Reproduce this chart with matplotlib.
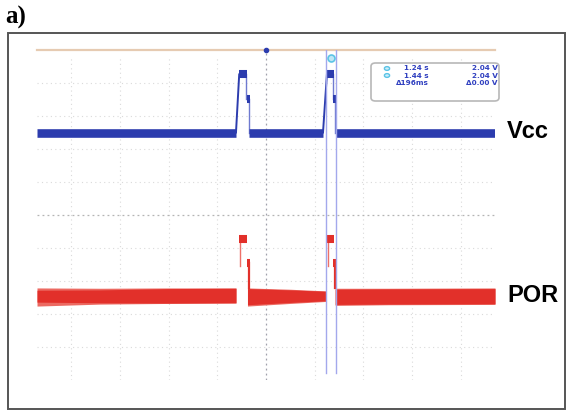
import matplotlib
matplotlib.use("Agg")
import matplotlib.pyplot as plt
from matplotlib.patches import Rectangle, FancyBboxPatch, Circle

W, H = 573, 413

# ---------------- data (time in s, 1 s/div; amplitude in divisions) ----------------
t_limits = (-4.70, 4.70)
div_limits = (-5.0, 5.0)
grid_t = [-4, -3, -2, -1, 1, 2, 3, 4]
grid_div = [-4, -3, -2, -1, 1, 2, 3, 4]

vcc_base_segments = [(-4.70, -0.616), (-0.34, 1.17), (1.44, 4.70)]
vcc_base_level = 2.50
vcc_pulse_segments = [(-0.56, -0.40), (1.24, 1.39)]
vcc_pulse_level = 4.26
vcc_step_segments = [(-0.39, -0.33), (1.38, 1.44)]
vcc_step_level = 3.52
vcc_ramps = [(-0.616, -0.55), (1.17, 1.25)]

por_band_t = [[-4.70, -3.4, -2.0, -0.616], [-0.38, 0.5, 1.225], [1.42, 2.5, 4.70]]
por_band_top = [[-2.21, -2.22, -2.21, -2.21], [-2.21, -2.25, -2.30], [-2.22, -2.22, -2.21]]
por_band_bot = [[-2.76, -2.70, -2.68, -2.67], [-2.76, -2.68, -2.62], [-2.74, -2.72, -2.71]]
por_inner_top = [[-2.28, -2.27, -2.23, -2.22], [-2.23, -2.27, -2.31], [-2.25, -2.24, -2.23]]
por_inner_bot = [[-2.64, -2.66, -2.67, -2.66], [-2.72, -2.65, -2.60], [-2.71, -2.70, -2.69]]
por_pulse_segments = [(-0.56, -0.40), (1.24, 1.39)]
por_pulse_level = -0.727
por_step_segments = [(-0.39, -0.33), (1.38, 1.44)]
por_step_level = -1.45

cursor_t = [1.24, 1.44]
meas_left = ["1.24 s", "1.44 s", "\u0394196ms"]
meas_right = ["2.04 V", "2.04 V", "\u03940.00 V"]
trace_labels = ["Vcc", "POR"]
panel_label = "a)"

BLUE = "#2c3cae"
RED = "#e2302a"
RED_LIGHT = "#ec6a62"
CURSOR = "#a3a8ec"
GRID = "#dadada"

# ---------------- figure ----------------
fig = plt.figure(figsize=(W / 100, H / 100), dpi=100)
fig.patch.set_facecolor("white")


def fx(x):
    return x / W


def fy(y):
    return 1 - y / H


# axes = scope screen (pixels 37..495 x 50..380)
ax = fig.add_axes([fx(37), fy(380), fx(495) - fx(37), fy(50) - fy(380)])
ax.set_xlim(*t_limits)
ax.set_ylim(*div_limits)
ax.axis("off")

# grid
for t in grid_t:
    ax.axvline(t, ymin=0.0, ymax=0.98, color=GRID, lw=0.8, ls=(0, (1, 3)), zorder=1)
for d in grid_div:
    ax.axhline(d, color=GRID, lw=0.8, ls=(0, (1, 3)), zorder=1)
ax.axvline(0, ymin=0.0, ymax=1.0, color="#a0a0ac", lw=0.9, ls=(0, (1.5, 2.5)), zorder=1)
ax.axhline(0, color="#b4b4b4", lw=0.9, ls=(0, (1.5, 2.5)), zorder=1)

# top reference line
ax.axhline(div_limits[1], color="#e6cbb2", lw=1.6, zorder=2, clip_on=False)
ax.plot([0], [div_limits[1]], marker="o", ms=3, color=BLUE, zorder=6, clip_on=False)

# ---- Vcc trace ----
for a, b in vcc_base_segments:
    ax.plot([a, b], [vcc_base_level] * 2, color=BLUE, lw=6.2, solid_capstyle="butt", zorder=4)
for a, b in vcc_pulse_segments:
    ax.plot([a, b], [vcc_pulse_level] * 2, color=BLUE, lw=5.8, solid_capstyle="butt", zorder=4)
for a, b in vcc_step_segments:
    ax.plot([a, b], [vcc_step_level] * 2, color=BLUE, lw=5.8, solid_capstyle="butt", zorder=4)
for a, b in vcc_ramps:
    ax.plot([a, b], [vcc_base_level, vcc_pulse_level], color=BLUE, lw=1.4, zorder=4)
for (pa, pb), (sa, sb) in zip(vcc_pulse_segments, vcc_step_segments):
    ax.plot([pb - 0.02, pb - 0.02], [vcc_pulse_level, vcc_step_level], color="#6f7ad0", lw=1.0, zorder=3)
    ax.plot([sb - 0.02, sb - 0.02], [vcc_step_level, vcc_base_level], color="#6f7ad0", lw=1.0, zorder=3)

# ---- POR trace ----
for ts, top, bot, itop, ibot in zip(por_band_t, por_band_top, por_band_bot, por_inner_top, por_inner_bot):
    ax.fill_between(ts, bot, top, color=RED_LIGHT, lw=0, zorder=3)
    ax.fill_between(ts, ibot, itop, color=RED, lw=0, zorder=4)
for a, b in por_pulse_segments:
    ax.plot([a, b], [por_pulse_level] * 2, color=RED, lw=5.8, solid_capstyle="butt", zorder=4)
for a, b in por_step_segments:
    ax.plot([a, b], [por_step_level] * 2, color=RED, lw=5.8, solid_capstyle="butt", zorder=4)
for (pa, pb), (sa, sb) in zip(por_pulse_segments, por_step_segments):
    ax.plot([pa + 0.03, pa + 0.03], [por_pulse_level, por_step_level - 0.1], color="#ee7068", lw=1.0, zorder=3)
    ax.plot([sb - 0.02, sb - 0.02], [por_step_level, por_band_top[0][-1]], color=RED, lw=1.6, zorder=3)

# ---- cursors ----
for c in cursor_t:
    ax.axvline(c, ymin=0.02, ymax=1.0, color=CURSOR, lw=1.0, zorder=5)
ax.plot([sum(cursor_t) / 2], [4.76], marker="o", ms=5, mfc="#bfe6f4", mec="#5cc4e6", mew=1.2,
        zorder=6, clip_on=False)

# ---------------- measurement box ----------------
box = FancyBboxPatch((fx(371), fy(101)), fx(499) - fx(371), fy(63) - fy(101),
                     boxstyle="round,pad=0,rounding_size=0.008", transform=fig.transFigure,
                     facecolor="white", edgecolor="#b8b8b8", lw=1.2, zorder=7)
fig.patches.append(box)
rows_y = [68.5, 75.5, 83]
for i, y in enumerate(rows_y[:2]):
    fig.patches.append(Circle((fx(387), fy(y)), 2.6 / W, transform=fig.transFigure,
                              facecolor="#cdeefa", edgecolor="#5cc4e6", lw=1.0, zorder=8))
for y, lt, rt in zip(rows_y, meas_left, meas_right):
    fig.text(fx(429), fy(y), lt, ha="right", va="center", fontsize=5.2, color="#3040c0",
             fontweight="bold", zorder=9)
    fig.text(fx(498), fy(y), rt, ha="right", va="center", fontsize=5.2, color="#3040c0",
             fontweight="bold", zorder=9)

# ---------------- labels ----------------
fig.text(fx(507), fy(131), trace_labels[0], ha="left", va="center", fontsize=17,
         fontweight="bold", family="Liberation Sans", color="black")
fig.text(fx(507), fy(296), trace_labels[1], ha="left", va="center", fontsize=17,
         fontweight="bold", family="Liberation Sans", color="black")
fig.text(fx(5), fy(24), panel_label, ha="left", va="baseline", fontsize=18,
         fontweight="bold", family="Liberation Serif", color="black")

# outer frame
fig.patches.append(Rectangle((fx(8), fy(409)), fx(565) - fx(8), fy(33) - fy(409),
                             transform=fig.transFigure, fill=False, edgecolor="#555555", lw=1.4))

fig.savefig("out.png", dpi=100, facecolor="white")
